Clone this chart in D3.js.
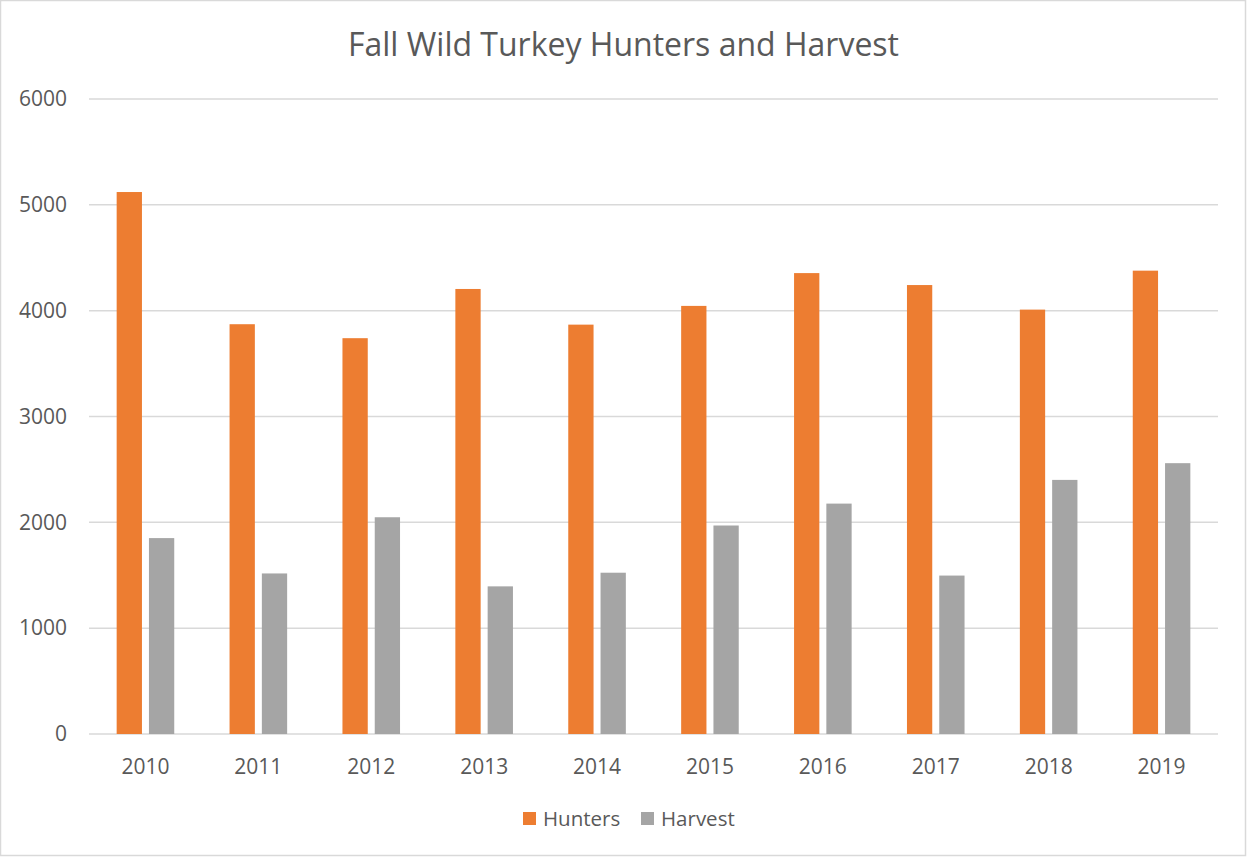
<!DOCTYPE html>
<html>
<head>
<meta charset="utf-8">
<script src="https://cdn.jsdelivr.net/npm/d3@7"></script>
<style>
  body { margin: 0; background: #fff; }
  svg { display: block; }
  text { font-family: "Open Sans", "DejaVu Sans", sans-serif; fill: #595959; }
</style>
</head>
<body>
<svg id="chart" width="1247" height="857"></svg>
<script>
const years = ["2010", "2011", "2012", "2013", "2014", "2015", "2016", "2017", "2018", "2019"];
const hunters = [5121, 3872, 3740, 4205, 3868, 4045, 4355, 4242, 4010, 4378];
const harvest = [1851, 1517, 2048, 1395, 1524, 1970, 2177, 1497, 2401, 2559];
const seriesNames = ["Hunters", "Harvest"];
const seriesColors = ["#ed7d31", "#a5a5a5"];
const yTicks = [0, 1000, 2000, 3000, 4000, 5000, 6000];

const width = 1247;
const height = 857;
const margin = { top: 99, right: 29, bottom: 123, left: 89 };

const svg = d3.select("#chart");

// outer chart border
svg.append("rect")
    .attr("x", 0.5).attr("y", 0.5)
    .attr("width", width - 2).attr("height", height - 2)
    .attr("fill", "#fff")
    .attr("stroke", "#d9d9d9")
    .attr("stroke-width", 1.5);

const x = d3.scaleBand()
    .domain(years)
    .range([margin.left, width - margin.right]);

const y = d3.scaleLinear()
    .domain([0, 6000])
    .range([height - margin.bottom, margin.top]);

// gridlines
svg.append("g")
    .selectAll("line")
    .data(yTicks)
    .join("line")
    .attr("x1", margin.left)
    .attr("x2", width - margin.right)
    .attr("y1", d => y(d))
    .attr("y2", d => y(d))
    .attr("stroke", "#d9d9d9")
    .attr("stroke-width", 1.5);

// y axis labels
const yAxis = d3.axisLeft(y).tickValues(yTicks).tickFormat(d3.format("d")).tickSize(0).tickPadding(0);
svg.append("g")
    .attr("transform", `translate(${margin.left - 22},0)`)
    .call(yAxis)
    .call(g => g.select(".domain").remove())
    .selectAll("text")
    .attr("font-size", 21)
    .attr("fill", "#595959")
    .attr("font-family", "\"Open Sans\", sans-serif");

// x axis labels
const xAxis = d3.axisBottom(x).tickSize(0).tickPadding(0);
svg.append("g")
    .attr("transform", `translate(0,${height - margin.bottom + 25})`)
    .call(xAxis)
    .call(g => g.select(".domain").remove())
    .selectAll("text")
    .attr("font-size", 21)
    .attr("fill", "#595959")
    .attr("font-family", "\"Open Sans\", sans-serif");

// bars
const barW = x.bandwidth() * 0.224;
const gap = x.bandwidth() * 0.062;
const allSeries = [hunters, harvest];
allSeries.forEach((values, s) => {
    svg.append("g")
        .selectAll("rect")
        .data(values)
        .join("rect")
        .attr("x", (d, i) => {
            const center = x(years[i]) + x.bandwidth() / 2;
            return s === 0 ? center - gap / 2 - barW : center + gap / 2;
        })
        .attr("y", d => y(d))
        .attr("width", barW)
        .attr("height", d => y(0) - y(d))
        .attr("fill", seriesColors[s]);
});

// title
svg.append("text")
    .attr("x", width / 2)
    .attr("y", 56)
    .attr("text-anchor", "middle")
    .attr("font-size", 32)
    .text("Fall Wild Turkey Hunters and Harvest");

// legend
const legend = svg.append("g").attr("transform", "translate(523,812)");
const legendX = [0, 118];
seriesNames.forEach((name, i) => {
    legend.append("rect")
        .attr("x", legendX[i])
        .attr("y", 0)
        .attr("width", 13)
        .attr("height", 13)
        .attr("fill", seriesColors[i]);
    legend.append("text")
        .attr("x", legendX[i] + 20)
        .attr("y", 14)
        .attr("font-size", 20.5)
        .text(name);
});
</script>
</body>
</html>
